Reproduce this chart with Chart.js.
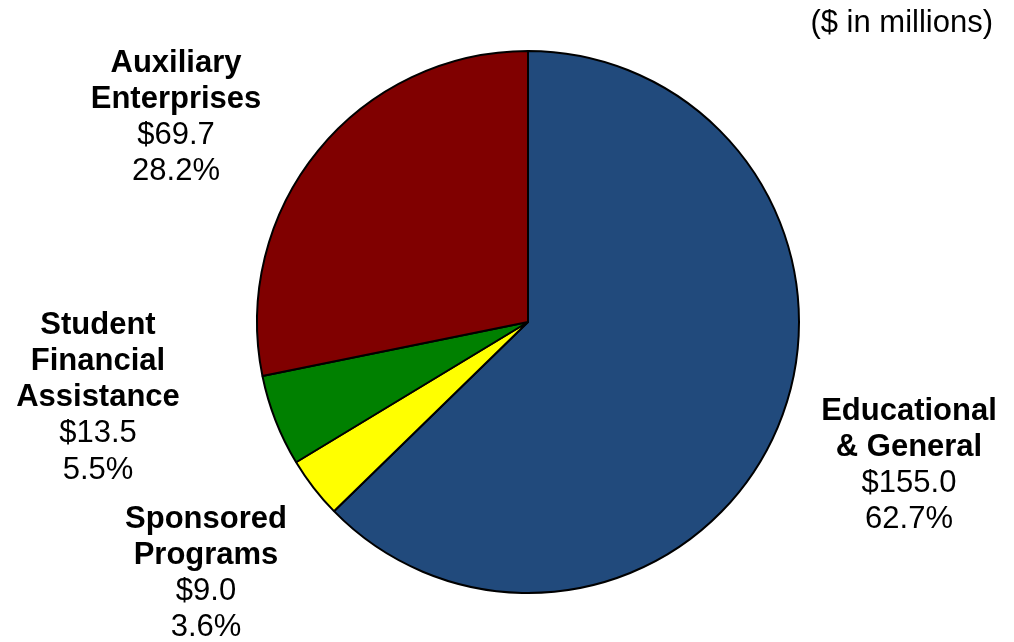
<!DOCTYPE html>
<html>
<head>
<meta charset="utf-8">
<script src="https://cdn.jsdelivr.net/npm/chart.js@4"></script>
<style>
  html, body { margin: 0; padding: 0; background: #fff; }
  #wrap { width: 1014px; height: 642px; position: relative; }
</style>
</head>
<body>
<div id="wrap"><canvas id="pie"></canvas></div>
<script>
// data
const categories = [
  ["Educational", "& General"],
  ["Sponsored", "Programs"],
  ["Student", "Financial", "Assistance"],
  ["Auxiliary", "Enterprises"],
];
const amounts = [155.0, 9.0, 13.5, 69.7];
const percents = ["62.7%", "3.6%", "5.5%", "28.2%"];
const colors = ["#214A7C", "#FFFF00", "#008000", "#800000"];

// where each slice label sits (center x, first line y)
const labelPos = [
  { x: 909, y: 411 },
  { x: 206, y: 519 },
  { x: 98, y: 325 },
  { x: 176, y: 63 },
];

const lineH = 36.3;
const font = "'Liberation Sans', Arial, sans-serif";

const labelPlugin = {
  id: "sliceLabels",
  afterDraw(chart) {
    const ctx = chart.ctx;
    ctx.save();
    ctx.fillStyle = "#000";
    ctx.textAlign = "center";
    ctx.textBaseline = "middle";
    categories.forEach((lines, i) => {
      const p = labelPos[i];
      let y = p.y;
      ctx.font = "bold 31px " + font;
      lines.forEach((t) => {
        ctx.fillText(t, p.x, y);
        y += lineH;
      });
      ctx.font = "31px " + font;
      ctx.fillText("$" + amounts[i].toFixed(1), p.x, y);
      y += lineH;
      ctx.fillText(percents[i], p.x, y);
    });
    // units note
    ctx.textAlign = "right";
    ctx.font = "31px " + font;
    ctx.fillText("($ in millions)", 993, 23);
    ctx.restore();
  },
};

new Chart(document.getElementById("pie"), {
  type: "pie",
  data: {
    labels: categories.map((c) => c.join(" ")),
    datasets: [
      {
        data: amounts,
        backgroundColor: colors,
        borderColor: "#000",
        borderWidth: 2,
      },
    ],
  },
  options: {
    responsive: true,
    maintainAspectRatio: false,
    animation: false,
    radius: 271,
    layout: { padding: { left: 42, right: 0, top: 2, bottom: 0 } },
    plugins: {
      legend: { display: false },
      tooltip: { enabled: false },
    },
  },
  plugins: [labelPlugin],
});
</script>
</body>
</html>
